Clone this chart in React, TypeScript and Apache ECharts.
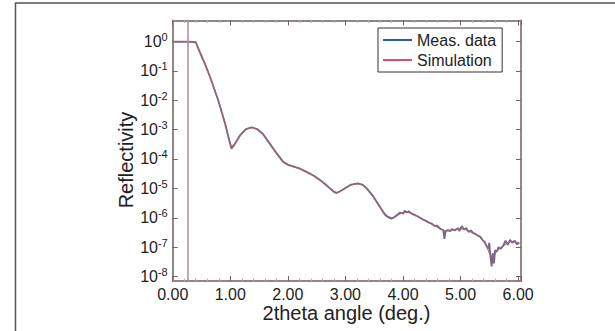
import React, { useEffect, useRef } from "react";
import * as echarts from "echarts";

// Measured data: 2theta angle (deg.) and log10(reflectivity)
const measAngle = [
  0.0, 0.1, 0.2, 0.3, 0.4, 0.45, 0.55, 0.65, 0.79, 0.91, 0.97, 1.02, 1.07, 1.17, 1.27, 1.37, 1.47, 1.57, 1.7, 1.8,
  1.92, 2.0, 2.09, 2.21, 2.33, 2.45, 2.56, 2.65, 2.73, 2.8, 2.85, 2.93, 3.02, 3.1, 3.22, 3.3, 3.37, 3.48, 3.6, 3.68,
  3.74, 3.8, 3.85, 3.9, 3.95, 4.0, 4.03, 4.07, 4.1, 4.15, 4.2, 4.25, 4.3, 4.35, 4.4, 4.45, 4.5, 4.55, 4.6, 4.65,
  4.7, 4.72, 4.74, 4.78, 4.82, 4.85, 4.9, 4.95, 4.98, 5.02, 5.06, 5.1, 5.14, 5.18, 5.22, 5.26, 5.3, 5.34, 5.38, 5.42,
  5.45, 5.48, 5.5, 5.52, 5.54, 5.56, 5.58, 5.6, 5.63, 5.66, 5.7, 5.74, 5.78, 5.82, 5.86, 5.9, 5.94, 5.98, 6.02,
];
const measLogR = [
  -0.02, -0.02, -0.02, -0.02, -0.03, -0.27, -0.72, -1.22, -2.0, -2.8, -3.28, -3.65, -3.52, -3.2, -2.99, -2.92, -2.99, -3.16, -3.52, -3.8,
  -4.1, -4.2, -4.25, -4.33, -4.45, -4.57, -4.72, -4.86, -5.0, -5.12, -5.16, -5.07, -4.96, -4.87, -4.83, -4.88, -5.0, -5.27, -5.63, -5.88,
  -5.98, -6.03, -5.97, -5.9, -5.82, -5.86, -5.76, -5.82, -5.78, -5.86, -5.9, -5.95, -6.0, -6.06, -6.1, -6.16, -6.2, -6.28, -6.27, -6.38,
  -6.42, -6.72, -6.45, -6.42, -6.46, -6.38, -6.43, -6.35, -6.45, -6.28, -6.4, -6.35, -6.48, -6.43, -6.52, -6.55, -6.6, -6.64, -6.75, -6.82,
  -6.95, -7.05, -6.85, -7.35, -7.65, -7.2, -7.55, -7.1, -7.15, -7.0, -7.05, -6.95, -6.78, -6.92, -6.75, -6.85, -6.78, -6.9, -6.85,
];

// Simulation
const simAngle = [
  0.0, 0.1, 0.2, 0.3, 0.4, 0.45, 0.55, 0.65, 0.79, 0.91, 0.97, 1.02, 1.07, 1.17, 1.27, 1.37, 1.47, 1.57, 1.7, 1.8,
  1.92, 2.0, 2.09, 2.21, 2.33, 2.45, 2.56, 2.65, 2.73, 2.8, 2.85, 2.93, 3.02, 3.1, 3.22, 3.3, 3.37, 3.48, 3.6, 3.68,
  3.74, 3.83, 3.95, 4.06, 4.15, 4.21, 4.31, 4.41, 4.5, 4.58, 4.65, 4.73, 4.8, 4.87, 4.95, 5.05, 5.16, 5.25, 5.34, 5.4,
  5.45, 5.51, 5.56, 5.63, 5.7, 5.78, 5.86, 5.94, 6.02,
];
const simLogR = [
  0.0, 0.0, 0.0, 0.0, -0.02, -0.25, -0.7, -1.2, -1.99, -2.78, -3.25, -3.6, -3.5, -3.18, -2.98, -2.93, -2.98, -3.15, -3.5, -3.78,
  -4.09, -4.18, -4.26, -4.32, -4.43, -4.56, -4.71, -4.85, -4.99, -5.1, -5.14, -5.08, -4.97, -4.88, -4.84, -4.88, -4.99, -5.25, -5.62, -5.85,
  -5.96, -6.01, -5.86, -5.8, -5.85, -5.91, -6.02, -6.13, -6.22, -6.3, -6.38, -6.45, -6.44, -6.41, -6.39, -6.37, -6.46, -6.55, -6.66, -6.8,
  -6.95, -7.25, -7.35, -7.12, -7.02, -6.9, -6.8, -6.82, -6.86,
];

const xTicks = [0, 1, 2, 3, 4, 5, 6];
const yDecades = [-8, -7, -6, -5, -4, -3, -2, -1, 0];
const criticalAngle = 0.27;

const FRAME = "#948684";

export default function App() {
  const ref = useRef<HTMLDivElement>(null);
  useEffect(() => {
    if (!ref.current) return;
    const chart = echarts.init(ref.current, null, { renderer: "svg" });
    const meas = measAngle.map((a, i) => [a, measLogR[i]]);
    const sim = simAngle.map((a, i) => [a, simLogR[i]]);
    const axisLine = { show: true, onZero: false, lineStyle: { color: FRAME, width: 2 } };
    const tick = { show: true, inside: true, length: 5, lineStyle: { color: "#6f6462", width: 1 } };
    const minor = { show: true, splitNumber: 5, length: 2.5, lineStyle: { color: "#b8aeac" } };
    chart.setOption({
      animation: false,
      backgroundColor: "#ffffff",
      textStyle: { fontFamily: "Liberation Sans, Arial, sans-serif" },
      grid: { left: 172.7, right: 94, top: 20.5, bottom: 50, containLabel: false },
      legend: {
        orient: "vertical",
        left: 378,
        top: 28,
        backgroundColor: "#ffffff",
        borderColor: "#333333",
        borderWidth: 1,
        padding: [4, 6, 4, 5],
        itemGap: 4,
        itemWidth: 29,
        itemHeight: 2,
        icon: "rect",
        textStyle: { fontSize: 16, color: "#222222" },
        data: [
          { name: "Meas. data", itemStyle: { color: "#2b5bb0" } },
          { name: "Simulation", itemStyle: { color: "#e8486a" } },
        ],
      },
      xAxis: [
        {
          type: "value",
          min: 0,
          max: 6.05,
          interval: 1,
          position: "bottom",
          axisLine,
          axisTick: tick,
          minorTick: minor,
          splitLine: { show: false },
          axisLabel: {
            formatter: (v: number) => (xTicks.includes(v) ? v.toFixed(2) : ""),
            fontSize: 16,
            color: "#222222",
            margin: 5,
          },
        },
        {
          type: "value",
          min: 0,
          max: 6.05,
          interval: 1,
          position: "top",
          axisLine,
          axisTick: tick,
          minorTick: minor,
          splitLine: { show: false },
          axisLabel: { show: false },
        },
      ],
      yAxis: [
        {
          type: "value",
          min: -8.15,
          max: 0.71,
          position: "left",
          axisLine,
          axisTick: { ...tick, customValues: yDecades },
          splitLine: { show: false },
          axisLabel: {
            customValues: yDecades,
            formatter: (v: number) => `10{sup|${v}}`,
            fontSize: 16,
            color: "#222222",
            margin: 5,
            rich: {
              sup: { fontSize: 11, color: "#222222", padding: [0, 0, 9, 0] },
            },
          },
        },
        {
          type: "value",
          min: -8.15,
          max: 0.71,
          position: "right",
          axisLine,
          axisTick: { ...tick, customValues: yDecades },
          splitLine: { show: false },
          axisLabel: { show: false },
        },
      ],
      graphic: [
        {
          type: "rect",
          z: -10,
          silent: true,
          shape: { x: 15.5, y: 3, width: 620, height: 340 },
          style: { fill: "none", stroke: "#555555", lineWidth: 1.5 },
        },
        {
          type: "text",
          x: 125.5,
          y: 160,
          rotation: Math.PI / 2,
          style: {
            text: "Reflectivity",
            fontSize: 20,
            fill: "#222222",
            align: "center",
            verticalAlign: "middle",
            fontFamily: "Liberation Sans, Arial, sans-serif",
          },
        },
        {
          type: "text",
          x: 346.5,
          y: 313,
          style: {
            text: "2theta angle (deg.)",
            fontSize: 20,
            fill: "#222222",
            align: "center",
            verticalAlign: "middle",
            fontFamily: "Liberation Sans, Arial, sans-serif",
          },
        },
      ],
      series: [
        {
          name: "Meas. data",
          type: "line",
          data: meas,
          showSymbol: false,
          itemStyle: { color: "#76688a" },
          lineStyle: { color: "#76688a", width: 1.8 },
          z: 2,
        },
        {
          name: "Simulation",
          type: "line",
          data: sim,
          showSymbol: false,
          itemStyle: { color: "#9a6672" },
          lineStyle: { color: "#9a6672", width: 1.3, opacity: 0.85 },
          z: 3,
          markLine: {
            silent: true,
            symbol: "none",
            label: { show: false },
            lineStyle: { color: "#b88890", width: 1.5, type: "solid" },
            data: [{ xAxis: criticalAngle }],
          },
        },
      ],
    });
    return () => chart.dispose();
  }, []);
  return (
    <div
      ref={ref}
      style={{ position: "fixed", left: 0, top: 0, width: 615, height: 331, background: "#fff" }}
    />
  );
}
